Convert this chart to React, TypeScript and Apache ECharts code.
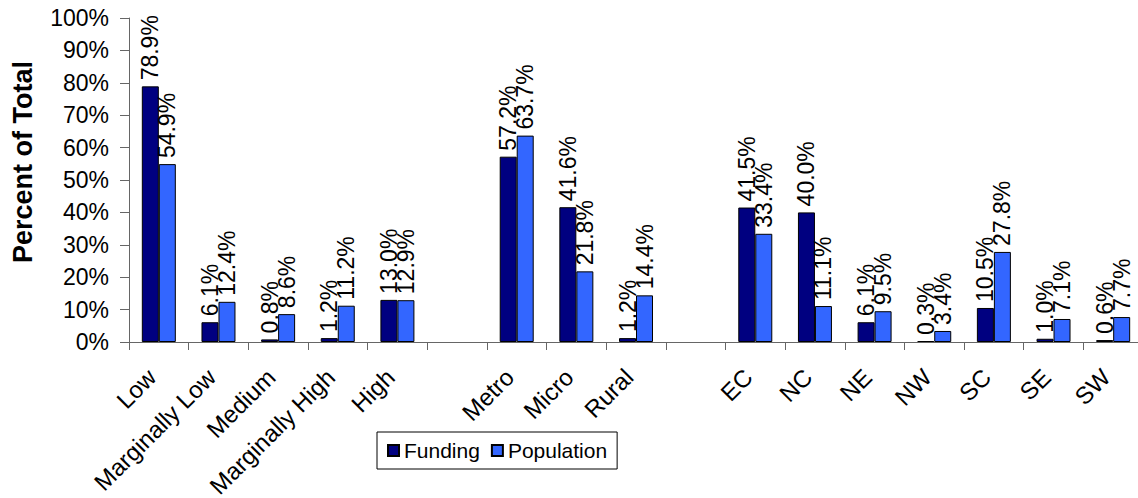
import React, { useEffect, useRef } from "react";
import * as echarts from "echarts";

const categories = [
  "Low", "Marginally Low", "Medium", "Marginally High", "High", "",
  "Metro", "Micro", "Rural", "",
  "EC", "NC", "NE", "NW", "SC", "SE", "SW",
];
const funding = [78.9, 6.1, 0.8, 1.2, 13.0, null, 57.2, 41.6, 1.2, null, 41.5, 40.0, 6.1, 0.3, 10.5, 1.0, 0.6];
const population = [54.9, 12.4, 8.6, 11.2, 12.9, null, 63.7, 21.8, 14.4, null, 33.4, 11.1, 9.5, 3.4, 27.8, 7.1, 7.7];
const yTicks = { min: 0, max: 100, interval: 10 };
const yTitle = "Percent of Total";

const FONT = "'Liberation Sans', Arial, sans-serif";

export default function App() {
  const ref = useRef<HTMLDivElement>(null);
  useEffect(() => {
    if (!ref.current) return;
    const chart = echarts.init(ref.current, null, { renderer: "svg" });
    const label = {
      show: true,
      position: "top" as const,
      distance: 6,
      rotate: 90,
      align: "left",
      verticalAlign: "middle",
      color: "#000",
      fontFamily: FONT,
      fontSize: 23,
      formatter: (p: any) => (p.value == null ? "" : Number(p.value).toFixed(1) + "%"),
    };
    chart.setOption({
      animation: false,
      backgroundColor: "#fff",
      textStyle: { fontFamily: FONT },
      grid: {
        left: 129,
        top: 18,
        width: 1014,
        height: 324,
        containLabel: false,
        outerBoundsMode: "none",
      },
      graphic: [
        {
          type: "text",
          x: 23,
          y: 162,
          rotation: Math.PI / 2,
          style: {
            text: yTitle,
            fontFamily: FONT,
            fontSize: 27,
            fontWeight: "bold",
            fill: "#000",
            align: "center",
            verticalAlign: "middle",
          },
        },
      ],
      legend: {
        left: 377,
        top: 432,
        width: 246,
        orient: "horizontal",
        padding: [8, 10, 8, 10],
        borderColor: "#000",
        borderWidth: 1,
        itemWidth: 11,
        itemHeight: 11,
        itemGap: 11,
        icon: "rect",
        textStyle: { fontFamily: FONT, fontSize: 21, color: "#000" },
        data: ["Funding", "Population"],
      },
      xAxis: {
        type: "category",
        data: categories,
        axisLine: { lineStyle: { color: "#666", width: 1 } },
        axisTick: { show: true, length: 8, lineStyle: { color: "#666" }, interval: 0 },
        axisLabel: {
          interval: 0,
          rotate: 45,
          margin: 24,
          padding: [0, 10, 0, 0],
          color: "#000",
          fontFamily: FONT,
          fontSize: 24,
        },
      },
      yAxis: {
        type: "value",
        min: yTicks.min,
        max: yTicks.max,
        interval: yTicks.interval,
        axisLine: { show: true, lineStyle: { color: "#666", width: 1 } },
        axisTick: { show: true, length: 9, lineStyle: { color: "#666" } },
        splitLine: { show: false },
        axisLabel: {
          formatter: "{value}%",
          margin: 20,
          color: "#000",
          fontFamily: FONT,
          fontSize: 23,
        },
      },
      series: [
        {
          name: "Funding",
          type: "bar",
          data: funding,
          barWidth: 17,
          barGap: "0%",
          itemStyle: { color: "#000080", borderColor: "#000", borderWidth: 1 },
          label,
        },
        {
          name: "Population",
          type: "bar",
          data: population,
          barWidth: 17,
          barGap: "0%",
          itemStyle: { color: "#3366FF", borderColor: "#000", borderWidth: 1 },
          label,
        },
      ],
    });
    return () => chart.dispose();
  }, []);
  return (
    <div
      ref={ref}
      style={{ position: "fixed", left: 0, top: 0, width: 1138, height: 498, background: "#fff" }}
    />
  );
}
